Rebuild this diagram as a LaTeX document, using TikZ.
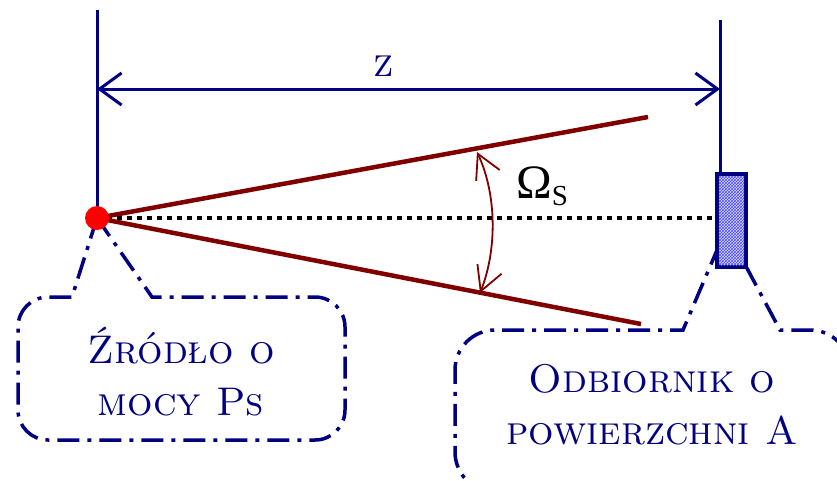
\documentclass[tikz,border=0pt]{standalone}
\usepackage{fontspec}
\newfontfamily\omfont{Liberation Serif}
\usetikzlibrary{arrows.meta,patterns}
\definecolor{navy}{RGB}{0,0,128}
\definecolor{maroon}{RGB}{128,0,0}
\tikzset{
  bubble/.style={draw=navy,line width=3.5pt,dash pattern=on 22pt off 8pt on 4pt off 8pt},
  beam/.style={maroon,line width=4.5pt},
  calltext/.style={text=navy,font=\fontsize{40}{52}\selectfont\scshape,align=center},
  guide/.style={navy,line width=3pt},
  dimarrow/.style={{Straight Barb[length=22pt,width=32pt]}-{Straight Barb[length=22pt,width=32pt]}},
  anglearrow/.style={{Straight Barb[length=24pt,width=26pt]}-{Straight Barb[length=24pt,width=26pt]}},
}
\begin{document}
\begin{tikzpicture}[x=1pt,y=-1pt]
\useasboundingbox (0,0) rectangle (837,480);
\coordinate (src) at (97,218);
\coordinate (srctop) at (97,10);
\coordinate (rcvtop) at (720,20);
\coordinate (rcvbot) at (720,265);
\coordinate (rcv) at (717,218);
\coordinate (rcvtip) at (726,229);
\coordinate (upend) at (648,117);
\coordinate (lowend) at (641,324);
% callouts
\draw[bubble] (src) -- (152,297) [rounded corners=30pt] -- (345,297) -- (345,440) -- (18,440) -- (18,297) [sharp corners] -- (72,297) -- cycle;
\draw[bubble] (rcvtip) -- (780,330) [rounded corners=40pt] -- (850,330) -- (850,492) -- (455,492) -- (455,330) [sharp corners] -- (683,330) -- cycle;
\node[calltext] (srctext) at (181,372) {Źródło o\\mocy Ps};
\node[calltext] (rcvtext) at (652,405) {Odbiornik o\\powierzchni A};
% distance z
\draw[guide] (srctop) -- (src);
\draw[guide] (rcvtop) -- (rcvbot);
\draw[guide,dimarrow] (97,89) coordinate (zl) -- (720,89) coordinate (zr);
\node[calltext] (zlabel) at (384,66) {z};
% axis and beam
\draw[line width=4pt,dash pattern=on 5pt off 5pt] (src) -- (rcv);
\draw[beam] (src) -- (upend);
\draw[beam] (src) -- (lowend);
\draw[maroon,line width=1.8pt,anglearrow] (477,152) .. controls (497,195) and (497,250) .. (480,293);
\node[font=\omfont\fontsize{48}{48}\selectfont,inner sep=0pt] (omega) at (542,186) {Ω\raisebox{-7pt}{\fontsize{29}{29}\selectfont S}};
% source and receiver
\fill[red] (src) circle[radius=12pt];
\draw[navy,line width=4pt,fill=blue!15] (717,174) rectangle (746,267);
\path[pattern=crosshatch,pattern color=blue!70] (719,176) rectangle (744,265);
\end{tikzpicture}
\end{document}
